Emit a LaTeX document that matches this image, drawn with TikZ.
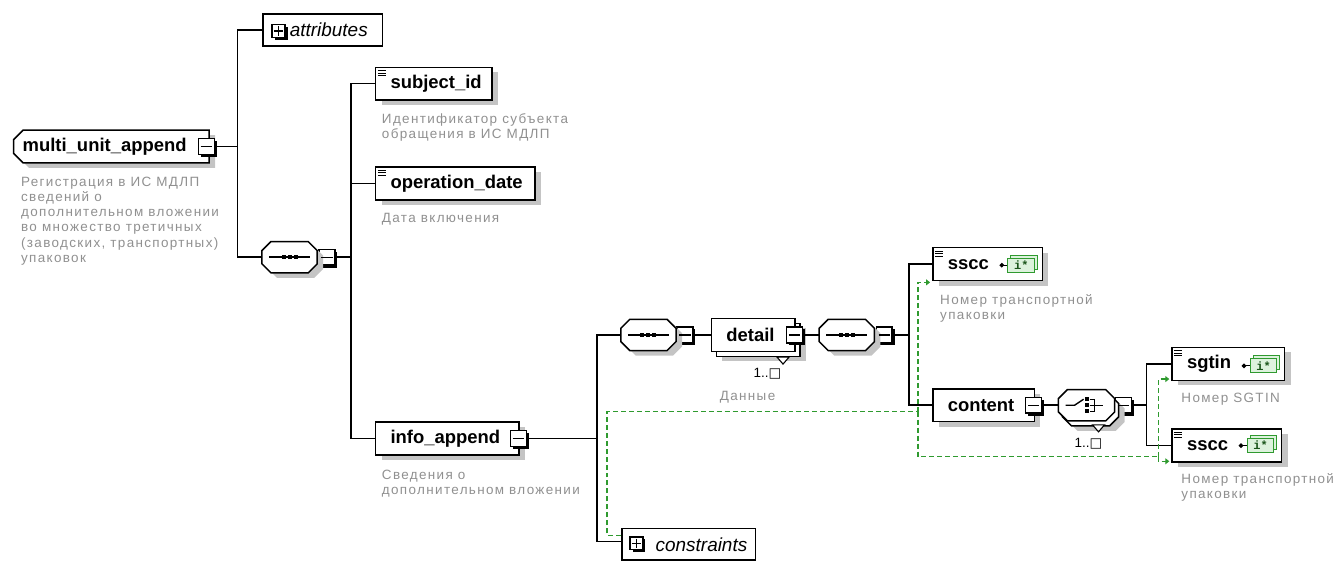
\documentclass[tikz,border=0pt]{standalone}
\usepackage{fontspec}
\setmainfont{Liberation Sans}
\setmonofont{Liberation Mono}
\newfontfamily\descfont{Liberation Sans}[LetterSpace=10]
\newfontfamily\symfont{DejaVu Sans}
\usetikzlibrary{arrows.meta,positioning,shapes.misc,shadows}
\definecolor{descgray}{HTML}{909090}
\definecolor{shadowgray}{HTML}{C4C4C4}
\definecolor{keygreen}{HTML}{2F9A2F}
\definecolor{iconfill}{HTML}{DDF2DD}

\begin{document}
\begin{tikzpicture}[x=1pt,y=-1pt]
\tikzset{
  elembox/.style={rectangle,draw=black,line width=1.5pt,fill=white,anchor=west,minimum height=33pt,inner xsep=0pt,inner ysep=2pt,align=left,font=\bfseries\fontsize{18.5}{20}\selectfont,general shadow={fill=shadowgray,shadow xshift=6pt,shadow yshift=-5pt}},
  lpad/.style={execute at begin node={\hspace*{#1}}},
  rootbox/.style={elembox,chamfered rectangle,chamfered rectangle corners={north west,south west},chamfered rectangle xsep=6pt},
  stackbox/.style={elembox,general shadow={fill=shadowgray,shadow xshift=11pt,shadow yshift=-10pt},copy shadow={shadow xshift=5pt,shadow yshift=-5pt}},
  groupbox/.style={rectangle,draw=black,line width=1.5pt,fill=white,anchor=west,minimum height=32pt,inner xsep=0pt,align=left,font=\itshape\fontsize{19}{21}\selectfont},
  compbox/.style={rectangle,inner sep=0pt,minimum width=55pt,minimum height=31pt},
  octo/.style={insert path={([xshift=9pt]#1.north west) -- ([xshift=-9pt]#1.north east) -- ([yshift=-9pt]#1.north east) -- ([yshift=9pt]#1.south east) -- ([xshift=-9pt]#1.south east) -- ([xshift=9pt]#1.south west) -- ([yshift=9pt]#1.south west) -- ([yshift=-9pt]#1.north west) -- cycle}},
  compline/.style={draw=black,line width=1.5pt,fill=white},
  btn/.style={rectangle,draw=black,line width=1.4pt,fill=white,minimum size=16pt,inner sep=0pt,general shadow={fill=black,shadow xshift=2.5pt,shadow yshift=-2.5pt}},
  desc/.style={anchor=north west,align=left,inner sep=0pt,text=descgray,font=\descfont\fontsize{13.5}{15.3}\selectfont},
  mult/.style={inner sep=0pt,font=\fontsize{13.5}{14}\selectfont},
  typeicon/.style={rectangle,draw=keygreen,line width=1pt,fill=iconfill,minimum width=27pt,minimum height=14pt,inner sep=0pt,text=keygreen!55!black,font=\ttfamily\bfseries\fontsize{12}{12}\selectfont,copy shadow={shadow xshift=3pt,shadow yshift=3pt}},
  conn/.style={draw=black,line width=1.5pt},
  keyline/.style={draw=keygreen,line width=1.3pt,dash pattern=on 5pt off 3pt},
  keyarrow/.style={keyline,-{Triangle[length=4pt,width=6pt]}}
}
% elements
\node[rootbox,text width=184pt,lpad=3pt] (n_root) at (13,147) {multi\_unit\_append};
\node[btn] (n_root_btn) at (207,147) {};
\node[groupbox,text width=120pt,lpad=27pt] (n_attrs) at (263,30) {attributes};
\node[btn,minimum size=13pt] (n_attrs_btn) at (279.5,31) {};
\node[compbox] (n_seq1) at (290.5,258) {};
\node[btn] (n_seq1_btn) at (328,258) {};
\node[elembox,text width=117pt,lpad=15pt] (n_subj) at (376,84) {subject\_id};
\node[elembox,text width=160pt,lpad=15pt] (n_opdate) at (376,184) {operation\_date};
\node[elembox,text width=144pt,lpad=15pt] (n_info) at (376,440) {info\_append};
\node[btn] (n_info_btn) at (520,440) {};
\node[compbox] (n_seq2) at (650.5,336) {};
\node[btn] (n_seq2_btn) at (687,336) {};
\node[stackbox,text width=84pt,lpad=15pt] (n_detail) at (713,336) {detail};
\node[btn] (n_detail_btn) at (797,336) {};
\node[compbox] (n_seq3) at (849.5,336) {};
\node[btn] (n_seq3_btn) at (887,336) {};
\node[elembox,text width=110pt,lpad=15pt] (n_sscc) at (935,265) {sscc};
\node[elembox,text width=102pt,lpad=15pt] (n_content) at (935,406.5) {content};
\node[btn] (n_content_btn) at (1037,406.5) {};
\node[compbox,minimum width=56pt] (n_choice) at (1090,406.5) {};
\node[btn] (n_choice_btn) at (1127,406.5) {};
\node[elembox,text width=113pt,lpad=15pt] (n_sgtin) at (1175,365) {sgtin};
\node[elembox,text width=110pt,lpad=15pt] (n_ssccb) at (1175,447) {sscc};
\node[groupbox,text width=134pt,lpad=34pt] (n_constr) at (623,546) {constraints};
\node[btn,minimum size=13pt] (n_constr_btn) at (638.5,545) {};
% compositor outlines
\foreach \s in {n_seq1,n_seq2,n_seq3}{
  \fill[shadowgray,transform canvas={shift={(6pt,-5pt)}},octo=\s];
  \path[compline,octo=\s];
}
\fill[shadowgray,transform canvas={shift={(10pt,-10pt)}},octo=n_choice];
\path[compline,transform canvas={shift={(4pt,-5pt)}},octo=n_choice];
\path[compline,octo=n_choice];
% type icons
\node[typeicon] (n_sscc_ic) at ([shift={(-22,1)}]n_sscc.east) {i*};
\node[typeicon] (n_sgtin_ic) at ([shift={(-22,2)}]n_sgtin.east) {i*};
\node[typeicon] (n_ssccb_ic) at ([shift={(-22,0)}]n_ssccb.east) {i*};
\foreach \t in {n_sscc_ic,n_sgtin_ic,n_ssccb_ic}
  \draw[line width=1.2pt,-{Diamond[length=5pt,width=5pt]}] (\t.west) -- ++(-8,0);
% descriptions
\node[desc] (d_root) at (21,177) {Регистрация в ИС МДЛП\\сведений о\\дополнительном вложении\\во множество третичных\\(заводских, транспортных)\\упаковок};
\node[desc] (d_subj) at (383,114) {Идентификатор субъекта\\обращения в ИС МДЛП};
\node[desc] (d_opdate) at (383,214) {Дата включения};
\node[desc] (d_info) at (383,471) {Сведения о\\дополнительном вложении};
\node[desc] (d_detail) at (722,392) {Данные};
\node[desc] (d_sscc) at (943,295) {Номер транспортной\\упаковки};
\node[desc] (d_sgtin) at (1185,394) {Номер SGTIN};
\node[desc] (d_ssccb) at (1185,475) {Номер транспортной\\упаковки};
\node[mult] (m_detail) at (770,375) {1..{\symfont □}};
\node[mult] (m_choice) at (1092,445) {1..{\symfont □}};
% junctions
\coordinate (j_root) at (238,147);
\coordinate (j_seq1) at (352,258);
\coordinate (j_info) at (599,440);
\coordinate (j_seq3) at (912,336);
\coordinate (j_choice) at (1150,406.5);
\draw[conn] (n_root_btn.east) -- (j_root);
\draw[conn] (n_attrs.west) -| (j_root) |- (n_seq1.west);
\draw[conn] (n_seq1_btn.east) -- (j_seq1);
\draw[conn] (n_subj.west) -| (j_seq1) |- (n_info.west);
\draw[conn] (j_seq1) |- (n_opdate.west);
\draw[conn] (n_info_btn.east) -- (j_info);
\draw[conn] (n_seq2.west) -| (j_info) |- ([yshift=3pt]n_constr.west);
\draw[conn] (n_seq2_btn.east) -- (n_detail.west);
\draw[conn] (n_detail_btn.east) -- (n_seq3.west);
\draw[conn] (n_seq3_btn.east) -- (j_seq3);
\draw[conn] (n_sscc.west) -| (j_seq3) |- (n_content.west);
\draw[conn] (n_content_btn.east) -- (n_choice.west);
\draw[conn] (n_choice_btn.east) -- (j_choice);
\draw[conn] (n_sgtin.west) -| (j_choice) |- (n_ssccb.west);
% key references
\coordinate (k_bend) at (609,413);
\coordinate (k_split) at (921,413);
\coordinate (k_low) at (921,458);
\coordinate (k_split2) at (1162,458);
\draw[keyline] ([yshift=9pt]n_constr.west) -| (k_bend) -- (k_split);
\draw[keyarrow] (k_split) |- ([shift={(-2,1)}]n_sscc.south west);
\draw[keyline] (k_split) -- (k_low) -- (k_split2);
\draw[keyarrow] (k_split2) |- ([shift={(-2,-2)}]n_sgtin.south west);
\draw[keyarrow] (k_split2) |- ([shift={(-2,-1.5)}]n_ssccb.south west);
% button marks
\foreach \b in {n_root_btn,n_seq1_btn,n_info_btn,n_seq2_btn,n_detail_btn,n_seq3_btn,n_content_btn,n_choice_btn}
  \draw[line width=1.3pt] ([xshift=3pt]\b.west) -- ([xshift=-3pt]\b.east);
\foreach \b in {n_attrs_btn,n_constr_btn}{
  \draw[line width=1.3pt] ([xshift=2.5pt]\b.west) -- ([xshift=-2.5pt]\b.east);
  \draw[line width=1.3pt] ([yshift=-2.5pt]\b.north) -- ([yshift=2.5pt]\b.south);
}
% simple type marks
\foreach \e in {n_subj,n_opdate,n_sscc,n_sgtin,n_ssccb}
  \foreach \k in {0,1,2}
    \draw[line width=0.8pt] ([shift={(3,4+2.5*\k)}]\e.north west) -- ++(8,0);
% compositor marks
\foreach \s in {n_seq1,n_seq2,n_seq3}{
  \draw[line width=1.4pt] ([xshift=7pt]\s.west) -- ([xshift=-7pt]\s.east);
  \foreach \d in {-6,0,6}
    \fill ([shift={(\d-2,-2)}]\s.center) rectangle ++(4,4);
}
\draw[line width=1.4pt] ([shift={(-21,0)}]n_choice.center) -- ++(9,0) -- ++(9,-6);
\foreach \d in {-6,0,6}
  \fill ([shift={(-2,\d-2)}]n_choice.center) rectangle ++(4,4);
\draw[line width=1.4pt] ([shift={(3,-6)}]n_choice.center) -- ++(5,0) -- ++(0,12) -- ++(-5,0)
  ([shift={(3,0)}]n_choice.center) -- ++(13,0);
% stack marks
\draw[line width=1.1pt,fill=white] ([shift={(-19,5)}]n_detail.south east) -- ++(12,0) -- ++(-6,7) -- cycle;
\draw[line width=1.1pt,fill=white] ([shift={(6,4)}]n_choice.south) -- ++(12,0) -- ++(-6,7) -- cycle;
\useasboundingbox (0,0) rectangle (1334,559);
\end{tikzpicture}
\end{document}
